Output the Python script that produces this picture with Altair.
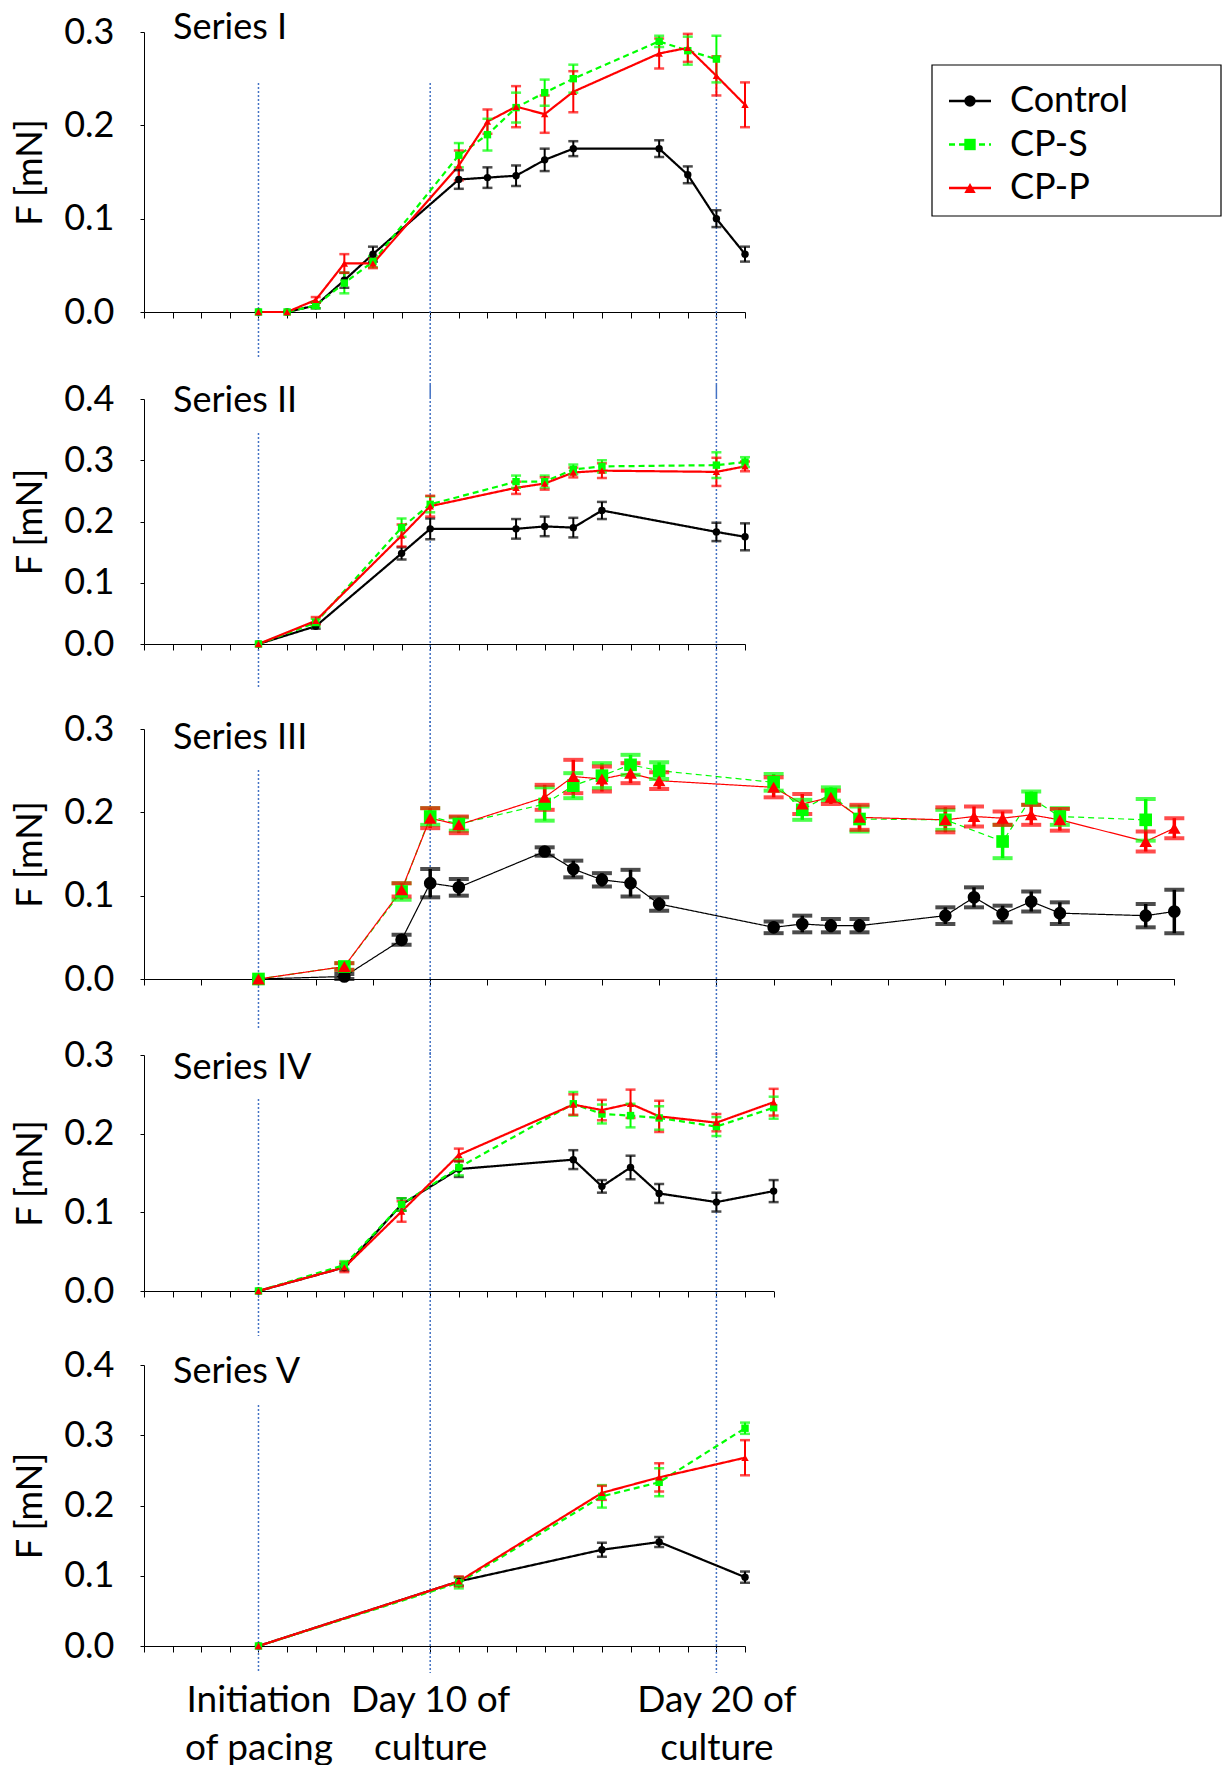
import altair as alt
import pandas as pd

# ---------------- data ----------------
SERIES = ["Control", "CP-S", "CP-P"]
COLORS = ["#000000", "#00FF00", "#FF0000"]
SHAPES = ["circle", "square", "triangle-up"]
DASHES = [[1, 0], [6, 4], [1, 0]]
LEGEND_DASHES = [[1, 0], [5, 4], [1, 0]]

PANEL_TITLES = ["Series I", "Series II", "Series III", "Series IV", "Series V"]
Y_MAX = [0.3, 0.4, 0.3, 0.3, 0.4]
Y_TICKS = [[0, 0.1, 0.2, 0.3], [0, 0.1, 0.2, 0.3, 0.4], [0, 0.1, 0.2, 0.3],
           [0, 0.1, 0.2, 0.3], [0, 0.1, 0.2, 0.3, 0.4]]
X_MAX = [21, 21, 36, 22, 21]
X_STEP = [1, 1, 2, 1, 1]
MARKER_DAYS = [4, 10, 20]
X_LABEL_DAYS = [4, 10, 20]
X_LABEL_LINES = [["Initiation", "of pacing"], ["Day 10 of", "culture"], ["Day 20 of", "culture"]]
Y_TITLE = "F [mN]"

# Series I
S1_CTRL_DAYS = [4, 5, 6, 7, 8, 11, 12, 13, 14, 15, 18, 19, 20, 21]
S1_CTRL_MEAN = [0, 0, 0.007, 0.034, 0.062, 0.142, 0.144, 0.146, 0.163, 0.175, 0.175, 0.147, 0.100, 0.062]
S1_CTRL_ERR = [0, 0, 0.003, 0.008, 0.008, 0.010, 0.011, 0.011, 0.012, 0.008, 0.009, 0.009, 0.009, 0.008]
S1_CPS_DAYS = [4, 5, 6, 7, 8, 11, 12, 13, 14, 15, 18, 19, 20]
S1_CPS_MEAN = [0, 0, 0.007, 0.031, 0.054, 0.168, 0.190, 0.219, 0.235, 0.250, 0.290, 0.280, 0.271]
S1_CPS_ERR = [0, 0, 0.003, 0.011, 0.006, 0.013, 0.017, 0.016, 0.014, 0.015, 0.006, 0.015, 0.025]
S1_CPP_DAYS = [4, 5, 6, 7, 8, 11, 12, 13, 14, 15, 18, 19, 20, 21]
S1_CPP_MEAN = [0, 0, 0.013, 0.052, 0.052, 0.157, 0.204, 0.220, 0.212, 0.236, 0.277, 0.283, 0.253, 0.222]
S1_CPP_ERR = [0, 0, 0.003, 0.010, 0.005, 0.016, 0.013, 0.022, 0.020, 0.022, 0.016, 0.015, 0.021, 0.024]

# Series II
S2_DAYS = [4, 6, 9, 10, 13, 14, 15, 16, 20, 21]
S2_CTRL_MEAN = [0, 0.029, 0.148, 0.188, 0.188, 0.192, 0.190, 0.218, 0.183, 0.175]
S2_CTRL_ERR = [0, 0.004, 0.010, 0.017, 0.016, 0.016, 0.016, 0.014, 0.015, 0.022]
S2_CPS_MEAN = [0, 0.035, 0.190, 0.228, 0.265, 0.265, 0.285, 0.290, 0.292, 0.297]
S2_CPS_ERR = [0, 0.006, 0.015, 0.013, 0.010, 0.010, 0.008, 0.010, 0.021, 0.008]
S2_CPP_MEAN = [0, 0.038, 0.177, 0.225, 0.255, 0.262, 0.280, 0.283, 0.281, 0.290]
S2_CPP_ERR = [0, 0.006, 0.018, 0.017, 0.010, 0.010, 0.008, 0.012, 0.023, 0.008]

# Series III
S3_CTRL_DAYS = [4, 7, 9, 10, 11, 14, 15, 16, 17, 18, 22, 23, 24, 25, 28, 29, 30, 31, 32, 35, 36]
S3_CTRL_MEAN = [0, 0.003, 0.047, 0.115, 0.110, 0.153, 0.132, 0.119, 0.115, 0.090, 0.062, 0.066,
                0.064, 0.064, 0.076, 0.098, 0.078, 0.093, 0.079, 0.076, 0.081]
S3_CTRL_ERR = [0, 0.003, 0.006, 0.017, 0.010, 0.005, 0.010, 0.008, 0.016, 0.008, 0.007, 0.010,
               0.008, 0.008, 0.010, 0.012, 0.010, 0.012, 0.013, 0.014, 0.026]
S3_CPS_DAYS = [4, 7, 9, 10, 11, 14, 15, 16, 17, 18, 22, 23, 24, 25, 28, 30, 31, 32, 35]
S3_CPS_MEAN = [0, 0.015, 0.105, 0.195, 0.186, 0.210, 0.232, 0.244, 0.257, 0.250, 0.236, 0.203,
               0.222, 0.192, 0.191, 0.165, 0.217, 0.195, 0.191]
S3_CPS_ERR = [0, 0.004, 0.010, 0.010, 0.008, 0.020, 0.015, 0.015, 0.012, 0.010, 0.010, 0.012,
              0.008, 0.015, 0.012, 0.020, 0.008, 0.010, 0.025]
S3_CPP_DAYS = [4, 7, 9, 10, 11, 14, 15, 16, 17, 18, 22, 23, 24, 25, 28, 29, 30, 31, 32, 35, 36]
S3_CPP_MEAN = [0, 0.015, 0.107, 0.193, 0.185, 0.218, 0.243, 0.240, 0.247, 0.238, 0.230, 0.210,
               0.218, 0.194, 0.191, 0.195, 0.193, 0.197, 0.191, 0.165, 0.181]
S3_CPP_ERR = [0, 0.004, 0.008, 0.012, 0.010, 0.015, 0.020, 0.015, 0.012, 0.010, 0.012, 0.012,
              0.008, 0.015, 0.015, 0.012, 0.008, 0.012, 0.013, 0.012, 0.012]

# Series IV
S4_DAYS = [4, 7, 9, 11, 15, 16, 17, 18, 20, 22]
S4_CTRL_MEAN = [0, 0.030, 0.110, 0.155, 0.167, 0.133, 0.157, 0.124, 0.113, 0.127]
S4_CTRL_ERR = [0, 0.004, 0.008, 0.010, 0.012, 0.008, 0.015, 0.012, 0.012, 0.014]
S4_CPS_MEAN = [0, 0.033, 0.110, 0.157, 0.238, 0.225, 0.223, 0.220, 0.209, 0.233]
S4_CPS_ERR = [0, 0.005, 0.008, 0.010, 0.015, 0.012, 0.015, 0.015, 0.012, 0.014]
S4_CPP_MEAN = [0, 0.030, 0.101, 0.173, 0.237, 0.230, 0.238, 0.222, 0.214, 0.240]
S4_CPP_ERR = [0, 0.006, 0.013, 0.008, 0.013, 0.013, 0.018, 0.020, 0.011, 0.017]

# Series V
S5_DAYS = [4, 11, 16, 18, 21]
S5_CTRL_MEAN = [0, 0.092, 0.137, 0.148, 0.098]
S5_CTRL_ERR = [0, 0.006, 0.010, 0.007, 0.008]
S5_CPS_MEAN = [0, 0.090, 0.213, 0.233, 0.310]
S5_CPS_ERR = [0, 0.008, 0.016, 0.020, 0.008]
S5_CPP_MEAN = [0, 0.092, 0.218, 0.240, 0.268]
S5_CPP_ERR = [0, 0.007, 0.010, 0.020, 0.025]


def frame(parts):
    rows = []
    for name, days, means, errs in parts:
        for d, m, e in zip(days, means, errs):
            rows.append({"series": name, "day": d, "mean": m, "err": e,
                         "lo": m - e, "hi": m + e})
    return pd.DataFrame(rows)


DATA = [
    frame([("Control", S1_CTRL_DAYS, S1_CTRL_MEAN, S1_CTRL_ERR),
           ("CP-S", S1_CPS_DAYS, S1_CPS_MEAN, S1_CPS_ERR),
           ("CP-P", S1_CPP_DAYS, S1_CPP_MEAN, S1_CPP_ERR)]),
    frame([("Control", S2_DAYS, S2_CTRL_MEAN, S2_CTRL_ERR),
           ("CP-S", S2_DAYS, S2_CPS_MEAN, S2_CPS_ERR),
           ("CP-P", S2_DAYS, S2_CPP_MEAN, S2_CPP_ERR)]),
    frame([("Control", S3_CTRL_DAYS, S3_CTRL_MEAN, S3_CTRL_ERR),
           ("CP-S", S3_CPS_DAYS, S3_CPS_MEAN, S3_CPS_ERR),
           ("CP-P", S3_CPP_DAYS, S3_CPP_MEAN, S3_CPP_ERR)]),
    frame([("Control", S4_DAYS, S4_CTRL_MEAN, S4_CTRL_ERR),
           ("CP-S", S4_DAYS, S4_CPS_MEAN, S4_CPS_ERR),
           ("CP-P", S4_DAYS, S4_CPP_MEAN, S4_CPP_ERR)]),
    frame([("Control", S5_DAYS, S5_CTRL_MEAN, S5_CTRL_ERR),
           ("CP-S", S5_DAYS, S5_CPS_MEAN, S5_CPS_ERR),
           ("CP-P", S5_DAYS, S5_CPP_MEAN, S5_CPP_ERR)]),
]

# ---------------- layout / style ----------------
FONT = "Lato"
PX_PER_DAY = 28.62
SPACING = 73
HEIGHTS = [280, 245, 250, 236, 281]      # plot height of each y scale
EXTRA_TOP = [0, 14, 12, 3, 1]             # empty band above each scale
GAPS_BELOW = [83, 82.5, 76, 73, 27]
DAY4_TOP = [51, 34, 41, 44, 40]
DAY4_BELOW = [47, 45, 50, 45, 27]
TITLE_DY = [-5.5, 0, 7.5, 11, 5.5]
MARK_SIZE = [55, 55, 160, 55, 55]
LINE_W = [2.2, 2.2, 1.2, 2.2, 2.2]
BAR_W = [2, 2, 3.5, 2, 2]
CAP_W = [10, 10, 20, 10, 10]
CAP_T = [2.5, 2.5, 4, 2.5, 2.5]
REF_COLOR = "#4472C4"

# legend placement (pixels relative to panel I plot area)
LEG_BOX = (788, 1077, 33, 184)
LEG_ROWS = (69, 156)
LEG_LINE = (805, 847)
LEG_MARK_X = 826
LEG_TEXT_X = 866

label_expr = " : ".join(
    "datum.value === %d ? [%s]" % (d, ", ".join("'%s'" % s for s in lines))
    for d, lines in zip(X_LABEL_DAYS, X_LABEL_LINES)
) + " : ''"

color_scale = alt.Scale(domain=SERIES, range=COLORS)
shape_scale = alt.Scale(domain=SERIES, range=SHAPES)


def legend_layers():
    ldf = pd.DataFrame({"series": SERIES, "row": list(range(len(SERIES)))})
    Y = alt.Y("row:Q", scale=alt.Scale(domain=[0, len(SERIES) - 1], range=list(LEG_ROWS),
                                       nice=False, zero=False), axis=None)
    col = alt.Color("series:N", scale=color_scale, legend=None)
    box = alt.Chart(pd.DataFrame({"k": [0]})).mark_rect(
        fill="white", stroke="black", strokeWidth=1.2).encode(
        x=alt.value(LEG_BOX[0]), x2=alt.value(LEG_BOX[1]),
        y=alt.value(LEG_BOX[2]), y2=alt.value(LEG_BOX[3]))
    seg = alt.Chart(ldf).mark_rule(strokeWidth=2.5).encode(
        x=alt.value(LEG_LINE[0]), x2=alt.value(LEG_LINE[1]), y=Y, color=col,
        strokeDash=alt.StrokeDash("series:N", scale=alt.Scale(domain=SERIES, range=LEGEND_DASHES),
                                  legend=None))
    mk = alt.Chart(ldf).mark_point(filled=True, size=130, opacity=1).encode(
        x=alt.value(LEG_MARK_X), y=Y, color=col,
        shape=alt.Shape("series:N", scale=shape_scale, legend=None))
    txt = alt.Chart(ldf).mark_text(align="left", baseline="middle", font=FONT,
                                   fontSize=36, color="black").encode(
        x=alt.value(LEG_TEXT_X), y=Y, text="series:N")
    return alt.layer(box, seg, mk, txt)


def panel(i):
    df = DATA[i]
    w = X_MAX[i] * PX_PER_DAY
    h = HEIGHTS[i]
    e = EXTRA_TOP[i]
    last = i == 4
    xs = alt.Scale(domain=[0, X_MAX[i]], nice=False, zero=True)
    ys = alt.Scale(domain=[0, Y_MAX[i]], nice=False, range=[h + e, e])
    if last:
        xaxis = alt.Axis(values=list(range(0, X_MAX[i] + 1, X_STEP[i])), title=None, grid=False,
                         tickSize=6, tickColor="black", domainColor="black",
                         labelExpr=label_expr, labelFont=FONT, labelFontSize=37,
                         labelColor="black", labelLineHeight=48, labelPadding=30,
                         labelOverlap=False, labelFlush=False, labelBound=False)
    else:
        xaxis = alt.Axis(values=list(range(0, X_MAX[i] + 1, X_STEP[i])), title=None, grid=False,
                         tickSize=6, tickColor="black", domainColor="black", labels=False)
    yaxis = alt.Axis(values=Y_TICKS[i], format=".1f", title=Y_TITLE, grid=False,
                     tickSize=4, tickColor="black", domainColor="black",
                     labelFont=FONT, labelFontSize=36, labelColor="black", labelPadding=26,
                     labelFlush=False, labelOverlap=False,
                     titleFont=FONT, titleFontSize=36, titleFontWeight="normal",
                     titleColor="black", titlePadding=14)
    X = alt.X("day:Q", scale=xs, axis=xaxis)
    col = alt.Color("series:N", scale=color_scale, legend=None)

    refs = pd.DataFrame({"day": MARKER_DAYS})
    day4 = alt.Chart(refs).transform_filter("datum.day === %d" % MARKER_DAYS[0]).mark_rule(
        color=REF_COLOR, strokeWidth=1.5, strokeDash=[2, 2]).encode(
        x=X, y=alt.value(e + DAY4_TOP[i]), y2=alt.value(e + h + DAY4_BELOW[i]))
    top_long = DAY4_TOP[0] if i == 0 else 0
    long_end = e + h + (SPACING + EXTRA_TOP[i + 1] if i < 4 else GAPS_BELOW[4])
    longs = alt.Chart(refs).transform_filter("datum.day !== %d" % MARKER_DAYS[0]).mark_rule(
        color=REF_COLOR, strokeWidth=1.5, strokeDash=[2, 2]).encode(
        x=X, y=alt.value(top_long), y2=alt.value(long_end))

    base = alt.Chart(df)
    lines = base.mark_line(strokeWidth=LINE_W[i]).encode(
        x=X, y=alt.Y("mean:Q", scale=ys, axis=yaxis), color=col,
        strokeDash=alt.StrokeDash("series:N", scale=alt.Scale(domain=SERIES, range=DASHES), legend=None),
        order=alt.Order("day:Q"))
    bars = base.transform_filter("datum.err > 0").mark_rule(strokeWidth=BAR_W[i]).encode(
        x=X, y=alt.Y("lo:Q", scale=ys, axis=yaxis), y2="hi:Q", color=col)
    caps = base.transform_filter("datum.err > 0").transform_fold(
        ["lo", "hi"], as_=["end", "val"]).mark_tick(
        orient="horizontal", size=CAP_W[i], thickness=CAP_T[i]).encode(
        x=X, y=alt.Y("val:Q", scale=ys, axis=yaxis), color=col)
    pts = base.mark_point(filled=True, size=MARK_SIZE[i], opacity=1).encode(
        x=X, y=alt.Y("mean:Q", scale=ys, axis=yaxis), color=col,
        shape=alt.Shape("series:N", scale=shape_scale, legend=None))
    title = alt.Chart(pd.DataFrame({"t": [PANEL_TITLES[i]]})).mark_text(
        align="left", baseline="alphabetic", font=FONT, fontSize=36, color="black").encode(
        x=alt.value(29), y=alt.value(e + TITLE_DY[i] + 12.5), text="t:N")

    data_part = alt.layer(day4, longs, lines, bars, caps, pts, title)
    if i == 0:
        out = alt.layer(data_part, legend_layers()).resolve_scale(y="independent")
    else:
        out = data_part
    return out.properties(width=w, height=h + e)


chart = alt.vconcat(*[panel(i) for i in range(5)], spacing=SPACING, bounds="flush").properties(
    padding={"left": 12, "top": 10, "right": 5, "bottom": 5}
).configure(font=FONT, background="white").configure_view(stroke="transparent", strokeWidth=0)

chart.save("out.html", embed_options={"renderer": "svg", "actions": False})
